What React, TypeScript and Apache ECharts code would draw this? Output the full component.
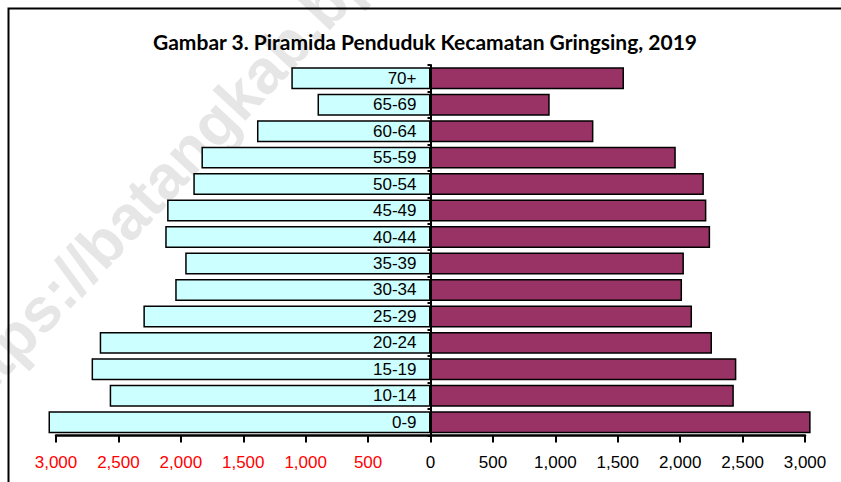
import React, { useEffect, useRef } from "react";
import * as echarts from "echarts";

const titleText = "Gambar 3. Piramida Penduduk Kecamatan Gringsing, 2019";
const watermarkText = "https://batangkab.bps.go.id";

const categories = [
  "0-9", "10-14", "15-19", "20-24", "25-29", "30-34", "35-39",
  "40-44", "45-49", "50-54", "55-59", "60-64", "65-69", "70+",
];
const maleValues = [3060, 2570, 2715, 2650, 2300, 2045, 1965, 2125, 2110, 1900, 1835, 1390, 905, 1115];
const femaleValues = [3045, 2430, 2450, 2255, 2095, 2015, 2030, 2240, 2210, 2190, 1965, 1305, 955, 1550];

const xMin = -3000;
const xMax = 3000;
const xInterval = 500;

export default function App() {
  const ref = useRef<HTMLDivElement>(null);

  useEffect(() => {
    if (!ref.current) return;
    const chart = echarts.init(ref.current, null, { renderer: "svg" });
    const fmt = (v: number) => Math.abs(v).toLocaleString("en-US");
    chart.setOption({
      animation: false,
      backgroundColor: "#ffffff",
      graphic: [
        {
          type: "text",
          z: -10,
          x: -30,
          y: 430,
          rotation: (47 * Math.PI) / 180,
          style: {
            text: watermarkText,
            fill: "#e6e6e6",
            font: "bold 62px 'Liberation Sans', Arial, sans-serif",
            textAlign: "left",
            textVerticalAlign: "bottom",
          },
        },
        {
          type: "rect",
          z: 100,
          shape: { x: 8.5, y: 8.5, width: 900, height: 600 },
          style: { fill: "none", stroke: "#000", lineWidth: 2 },
        },
        {
          type: "text",
          z: 100,
          x: 425,
          y: 41,
          style: {
            text: titleText,
            fill: "#000",
            font: "bold 21px Lato, 'Open Sans', sans-serif",
            textAlign: "center",
            textVerticalAlign: "middle",
          },
        },
      ],
      grid: { left: 56, right: 36, top: 65, bottom: 46.5, containLabel: false },
      xAxis: {
        type: "value",
        min: xMin,
        max: xMax,
        interval: xInterval,
        splitLine: { show: false },
        axisLine: { show: true, onZero: false, lineStyle: { color: "#000", width: 2.5 } },
        axisTick: { show: true, length: 7, lineStyle: { color: "#000", width: 2 } },
        axisLabel: {
          fontSize: 17,
          fontFamily: "'Liberation Sans', Arial, sans-serif",
          margin: 18,
          color: (v: any) => (Number(v) < 0 ? "#ff0000" : "#000000"),
          formatter: (v: number) => fmt(v),
        },
      },
      yAxis: {
        type: "category",
        data: categories,
        z: 10,
        axisLine: { show: true, onZero: true, lineStyle: { color: "#000", width: 2 } },
        axisTick: { show: true, length: 3, lineStyle: { color: "#000", width: 2 } },
        axisLabel: { show: false },
        splitLine: { show: false },
      },
      series: [
        {
          name: "Laki-laki",
          type: "bar",
          clip: false,
          barGap: "-100%",
          barCategoryGap: "17%",
          data: maleValues.map((v) => -v),
          itemStyle: { color: "#CCFFFF", borderColor: "#000", borderWidth: 1.5 },
          label: {
            show: true,
            position: "insideRight",
            distance: 14,
            formatter: "{b}",
            color: "#000",
            fontSize: 17,
            fontFamily: "'Liberation Sans', Arial, sans-serif",
          },
        },
        {
          name: "Perempuan",
          type: "bar",
          clip: false,
          barGap: "-100%",
          barCategoryGap: "17%",
          data: femaleValues,
          itemStyle: { color: "#993366", borderColor: "#000", borderWidth: 1.5 },
        },
      ],
    });
    return () => chart.dispose();
  }, []);

  return (
    <div
      ref={ref}
      style={{ position: "fixed", left: 0, top: 0, width: 841, height: 482 }}
    />
  );
}
